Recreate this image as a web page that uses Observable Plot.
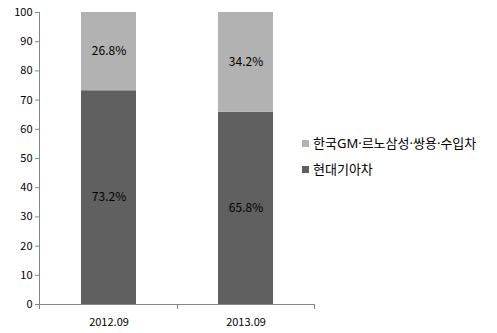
<!DOCTYPE html>
<html><head><meta charset="utf-8">
<script src="https://cdn.jsdelivr.net/npm/d3@7"></script>
<script src="https://cdn.jsdelivr.net/npm/@observablehq/plot@0.6"></script>
<style>
body{margin:0;background:#fff;}
#wrap{position:relative;width:497px;height:333px;font-family:"Noto Sans CJK KR",sans-serif;}
#legend{position:absolute;left:302px;top:130px;font-family:"Noto Sans","Noto Sans CJK KR",sans-serif;font-size:13px;line-height:26px;color:#000;white-space:nowrap;}
#legend .sw{display:inline-block;width:7px;height:7px;margin-right:4px;vertical-align:middle;position:relative;top:-1px;}
g[aria-label="y-axis tick"] path{stroke:#868686;}
</style></head><body><div id="wrap"></div>
<script>
const periods = ["2012.09", "2013.09"];
const seriesNames = ["현대기아차", "한국GM·르노삼성·쌍용·수입차"];
const hyundaiKia = [73.2, 65.8];
const others = [26.8, 34.2];
const yTicks = [0, 10, 20, 30, 40, 50, 60, 70, 80, 90, 100];

const seriesColors = ["#606060", "#b2b2b2"];
const seriesValues = [hyundaiKia, others];

const rows = seriesNames.flatMap((s, si) =>
  periods.map((p, pi) => ({ period: p, series: s, value: seriesValues[si][pi] }))
);

function axisLines(index, scales, values, dims) {
  const x = scales.x, y = scales.y;
  const bw = x.bandwidth ? x.bandwidth() : 0;
  const centers = periods.map(p => x(p) + bw / 2);
  const left = dims.marginLeft, right = dims.width - dims.marginRight;
  const bounds = [left];
  for (let i = 1; i < centers.length; i++) bounds.push((centers[i - 1] + centers[i]) / 2);
  bounds.push(right);
  const g = d3.create("svg:g").attr("stroke", "#868686").attr("shape-rendering", "crispEdges");
  g.append("line").attr("x1", left).attr("x2", left).attr("y1", y(0)).attr("y2", y(100));
  g.append("line").attr("x1", left).attr("x2", right).attr("y1", y(0)).attr("y2", y(0));
  for (const b of bounds) {
    g.append("line").attr("x1", b).attr("x2", b).attr("y1", y(0)).attr("y2", y(0) + 5);
  }
  return g.node();
}

const plot = Plot.plot({
  width: 497,
  height: 333,
  marginLeft: 39,
  marginRight: 183,
  marginTop: 12,
  marginBottom: 29,
  style: { fontFamily: '"Noto Sans CJK KR", sans-serif', fontSize: "11px", color: "#000", background: "#fff" },
  x: { domain: periods, paddingInner: 0.6, paddingOuter: 0.3, label: null, tickSize: 0, tickPadding: 14 },
  y: { domain: [0, 100], ticks: yTicks, label: null, tickSize: 4, tickPadding: 3 },
  color: { domain: seriesNames, range: seriesColors },
  marks: [
    Plot.barY(rows, { x: "period", y: "value", fill: "series" }),
    Plot.text(rows, Plot.stackY({ x: "period", y: "value", z: "series", text: d => d.value.toFixed(1) + "%", fontSize: 12, fill: "#000" })),
    axisLines
  ]
});

const wrap = document.getElementById("wrap");
wrap.appendChild(plot);

const color = plot.scale("color");
const legend = document.createElement("div");
legend.id = "legend";
[...seriesNames].reverse().forEach(s => {
  const item = document.createElement("div");
  const sw = document.createElement("span");
  sw.className = "sw";
  sw.style.background = color.range[color.domain.indexOf(s)];
  item.appendChild(sw);
  item.appendChild(document.createTextNode(s));
  legend.appendChild(item);
});
wrap.appendChild(legend);
</script>
</body></html>
